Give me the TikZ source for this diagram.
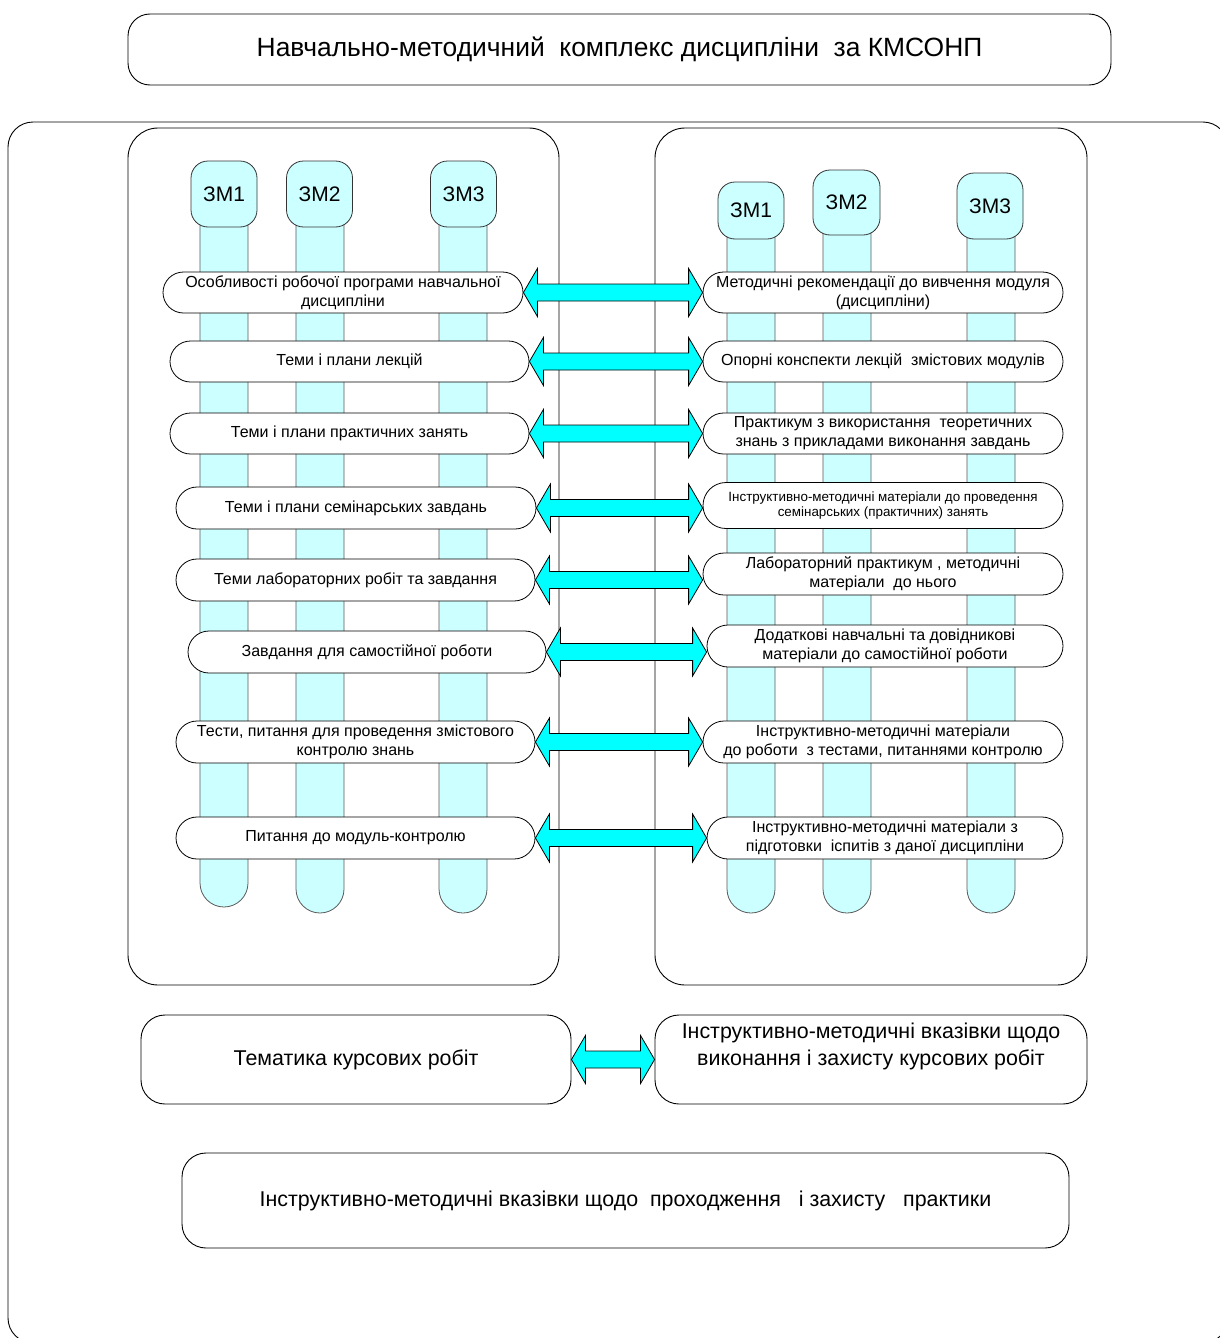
\documentclass[tikz,border=0pt]{standalone}
\usepackage{fontspec}
\setmainfont{Liberation Sans}
\usepackage{tikz}
\usetikzlibrary{shapes.misc,calc}

\definecolor{zmcyan}{HTML}{CCFFFF}
\definecolor{arrcyan}{HTML}{00FFFF}

\tikzset{
  panelbox/.style={draw, line width=0.9pt, rounded corners=30pt},
  bigbox/.style={draw, line width=0.9pt, rounded corners=24pt, inner sep=0pt, align=center, font=\fontsize{21.4}{27}\selectfont},
  zmcap/.style={draw=black!80, fill=zmcyan, line width=0.8pt, rounded corners=17pt, inner sep=0pt, font=\fontsize{21}{24}\selectfont},
  zmbar/.style={draw=black!65, fill=zmcyan, line width=0.8pt},
  rowbox/.style={rounded rectangle, draw, fill=white, line width=0.8pt, inner sep=0pt, align=center, minimum height=41pt, font=\fontsize{16}{19}\selectfont},
  smallrow/.style={font=\fontsize{13.4}{15}\selectfont},
  arrowfill/.style={fill=arrcyan, draw=black, line width=0.8pt, line join=miter}
}

\newcommand\dblarrow[2]{%
  \filldraw[arrowfill] let \p1=(#1.east), \p2=(#2.west) in
    (\x1,\y1) -- (\x1+14pt,\y1+24pt) -- (\x1+14pt,\y1+8.5pt) -- (\x2-14pt,\y1+8.5pt)
    -- (\x2-14pt,\y1+24pt) -- (\x2,\y1) -- (\x2-14pt,\y1-24pt) -- (\x2-14pt,\y1-8.5pt)
    -- (\x1+14pt,\y1-8.5pt) -- (\x1+14pt,\y1-24pt) -- cycle;}

\begin{document}
\begin{tikzpicture}[x=1pt, y=-1pt]
   \useasboundingbox (0,0) rectangle (1219,1338);

   \node[bigbox, rounded corners=22pt, minimum width=983pt, minimum height=71pt, font=\fontsize{26.4}{30}\selectfont] (title) at (619.5,49.5) {Навчально-методичний\ \ комплекс дисципліни\ \ за КМСОНП};

   \draw[panelbox, rounded corners=25pt] (8,122) rectangle (1228,1343);
   \draw[panelbox] (128,128) rectangle (559,985);
   \draw[panelbox] (655,128) rectangle (1087,985);

   \filldraw[zmbar] (200,194) -- (200,883) arc[start angle=180, end angle=360, radius=24pt] -- (248,194);
   \filldraw[zmbar] (296,194) -- (296,889) arc[start angle=180, end angle=360, radius=24pt] -- (344,194);
   \filldraw[zmbar] (439,194) -- (439,889) arc[start angle=180, end angle=360, radius=24pt] -- (487,194);
   \node[zmcap, minimum width=66pt, minimum height=66pt] (lzm1) at (224,194) {ЗМ1};
   \node[zmcap, minimum width=66pt, minimum height=66pt] (lzm2) at (319.5,194) {ЗМ2};
   \node[zmcap, minimum width=66pt, minimum height=66pt] (lzm3) at (463.5,194) {ЗМ3};

   \filldraw[zmbar] (727,210) -- (727,889) arc[start angle=180, end angle=360, radius=24pt] -- (775,210);
   \filldraw[zmbar] (823,202) -- (823,889) arc[start angle=180, end angle=360, radius=24pt] -- (871,202);
   \filldraw[zmbar] (967,206) -- (967,889) arc[start angle=180, end angle=360, radius=24pt] -- (1015,206);
   \node[zmcap, minimum width=66pt, minimum height=57pt] (rzm1) at (751,210.5) {ЗМ1};
   \node[zmcap, minimum width=67pt, minimum height=65pt] (rzm2) at (846.5,202.5) {ЗМ2};
   \node[zmcap, minimum width=66pt, minimum height=66pt] (rzm3) at (990,206) {ЗМ3};

   \node[rowbox, minimum width=360pt] (prog) at (343,292.5) {Особливості робочої програми навчальної\\дисципліни};
   \node[rowbox, minimum width=359pt] (lect) at (349.5,361.5) {Теми і плани лекцій};
   \node[rowbox, minimum width=359pt] (prakt) at (349.5,433.5) {Теми і плани практичних занять};
   \node[rowbox, minimum width=360pt, minimum height=42pt] (semin) at (356,508) {Теми і плани семінарських завдань};
   \node[rowbox, minimum width=359pt, minimum height=42pt] (labor) at (355.5,580) {Теми лабораторних робіт та завдання};
   \node[rowbox, minimum width=358pt, minimum height=42pt] (samost) at (367,652) {Завдання для самостійної роботи};
   \node[rowbox, minimum width=359pt, minimum height=42pt] (testy) at (355.5,742) {Тести, питання для проведення змістового\\контролю знань};
   \node[rowbox, minimum width=359pt, minimum height=42pt] (modkontr) at (355.5,838) {Питання до модуль-контролю};

   \node[rowbox, minimum width=360pt] (metrek) at (883,292.5) {Методичні рекомендації до вивчення модуля\\(дисципліни)};
   \node[rowbox, minimum width=360pt] (konsp) at (883,361.5) {Опорні конспекти лекцій\ \ змістових модулів};
   \node[rowbox, minimum width=360pt] (praktikum) at (883,433.5) {Практикум з використання\ \ теоретичних\\знань з прикладами виконання завдань};
   \node[rowbox, smallrow, minimum width=360pt, minimum height=46pt] (seminmat) at (883,505.5) {Інструктивно-методичні матеріали до проведення\\семінарських (практичних) занять};
   \node[rowbox, minimum width=360pt, minimum height=42pt] (labprakt) at (883,574) {Лабораторний практикум , методичні\\матеріали\ \ до нього};
   \node[rowbox, minimum width=356pt, minimum height=42pt] (dodatk) at (885,646) {Додаткові навчальні та довідникові\\матеріали до самостійної роботи};
   \node[rowbox, minimum width=360pt, minimum height=42pt] (testmat) at (883,742) {Інструктивно-методичні матеріали\\до роботи\ \ з тестами, питаннями контролю};
   \node[rowbox, minimum width=356pt, minimum height=42pt] (ispyt) at (885,838) {Інструктивно-методичні матеріали з\\підготовки\ \ іспитів з даної дисципліни};

   \dblarrow{prog}{metrek}
   \dblarrow{lect}{konsp}
   \dblarrow{prakt}{praktikum}
   \dblarrow{semin}{seminmat}
   \dblarrow{labor}{labprakt}
   \dblarrow{samost}{dodatk}
   \dblarrow{testy}{testmat}
   \dblarrow{modkontr}{ispyt}

   \node[bigbox, minimum width=430pt, minimum height=89pt] (kurs) at (356,1059.5) {Тематика курсових робіт};
   \node[bigbox, minimum width=432pt, minimum height=89pt] (kursinstr) at (871,1059.5) {};
   \node[align=center, font=\fontsize{21.4}{27}\selectfont] (kursinstrtext) at (871,1046) {Інструктивно-методичні вказівки щодо\\виконання і захисту курсових робіт};
   \dblarrow{kurs}{kursinstr}

   \node[bigbox, minimum width=887pt, minimum height=95pt] (praktyka) at (625.5,1200.5) {Інструктивно-методичні вказівки щодо\ \ проходження\ \ \ і захисту\ \ \ практики};
\end{tikzpicture}
\end{document}
